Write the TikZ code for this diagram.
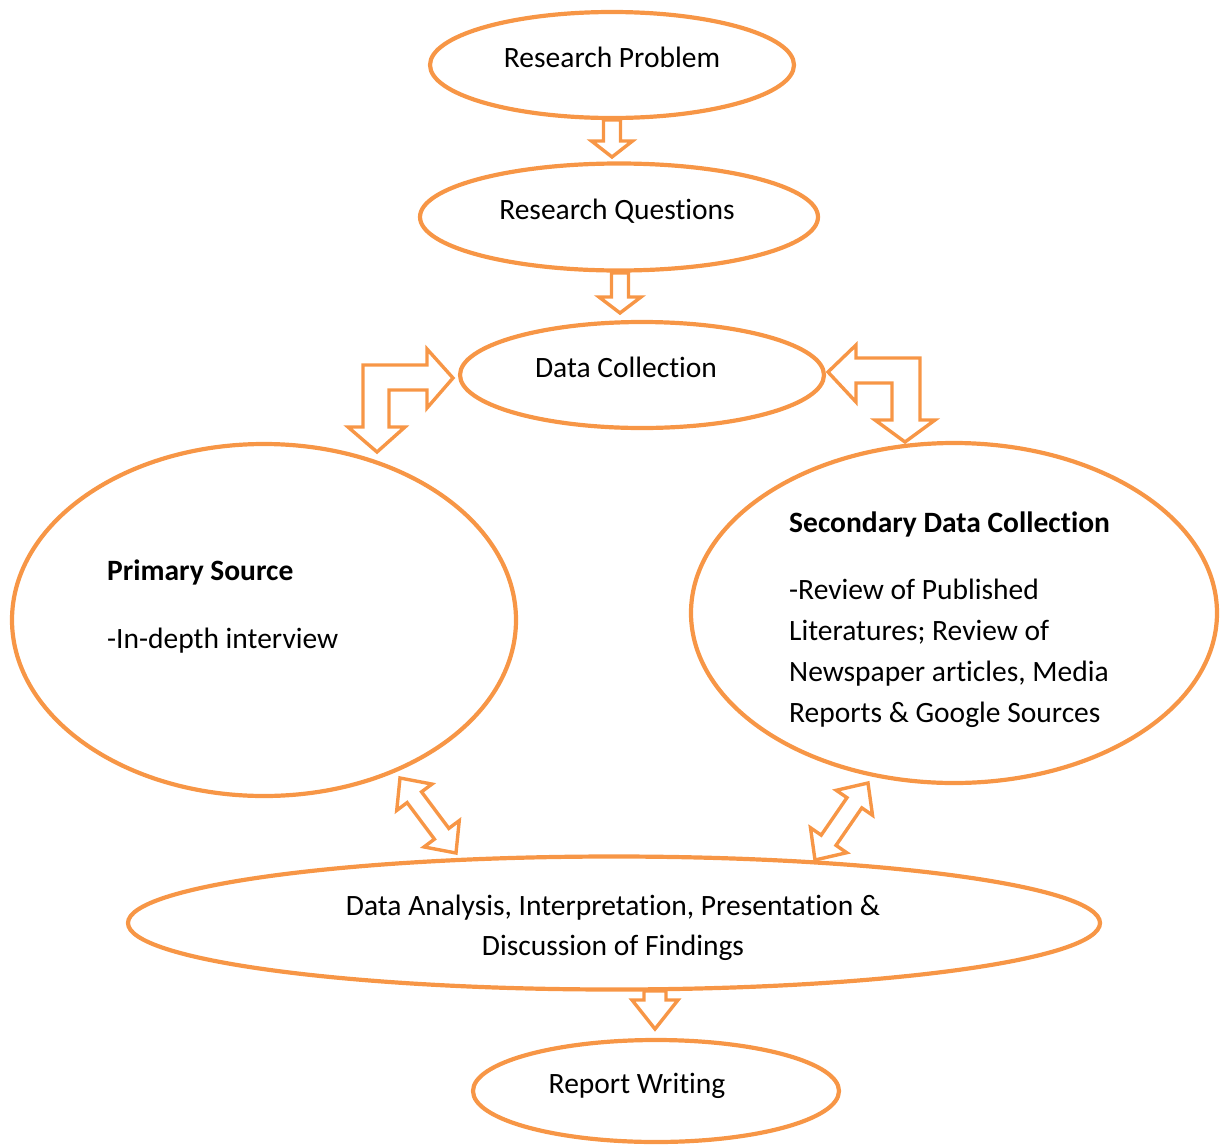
\documentclass[tikz,border=0pt]{standalone}
\usepackage{fontspec}
\setmainfont{Carlito}[Ligatures=NoCommon]
\usetikzlibrary{shapes.geometric,calc}
\definecolor{acc}{HTML}{F79646}
\newcommand\sarrow[5]{% tail, tip, shaft half, head half, head length
  \coordinate (hb) at ($(#2)!#5pt!(#1)$);
  \draw[blk] ($(#1)!#3pt!90:(#2)$) -- ($(hb)!#3pt!90:(#2)$) -- ($(hb)!#4pt!90:(#2)$) -- (#2)
    -- ($(hb)!#4pt!-90:(#2)$) -- ($(hb)!#3pt!-90:(#2)$) -- ($(#1)!#3pt!-90:(#2)$) -- cycle;}
\newcommand\darrow[5]{% end A, end B, shaft half, head half, head length
  \coordinate (ha) at ($(#1)!#5pt!(#2)$);
  \coordinate (hbb) at ($(#2)!#5pt!(#1)$);
  \draw[blk] (#1) -- ($(ha)!#4pt!90:(#2)$) -- ($(ha)!#3pt!90:(#2)$) -- ($(hbb)!#3pt!-90:(#1)$)
    -- ($(hbb)!#4pt!-90:(#1)$) -- (#2) -- ($(hbb)!#4pt!90:(#1)$) -- ($(hbb)!#3pt!90:(#1)$)
    -- ($(ha)!#3pt!-90:(#2)$) -- ($(ha)!#4pt!-90:(#2)$) -- cycle;}
\begin{document}
\begin{tikzpicture}[x=1pt,y=-1pt,
  oval/.style={ellipse,draw=acc,line width=4.2pt,inner sep=0pt},
  txt/.style={inner sep=0pt,font=\fontsize{29.5}{41}\selectfont},
  blk/.style={draw=acc,line width=3.4pt,line join=miter}]
\useasboundingbox (0,0) rectangle (1221,1146);

% arrows
\coordinate (a1t) at (612,120); \coordinate (a1h) at (612,157);
\coordinate (a2t) at (620,273); \coordinate (a2h) at (620,313);
\coordinate (a3t) at (655,991); \coordinate (a3h) at (655,1029);
\sarrow{a1t}{a1h}{8.5}{20.5}{16}
\sarrow{a2t}{a2h}{8.5}{21}{16}
\sarrow{a3t}{a3h}{11}{23}{29}

\coordinate (d1a) at (400,778); \coordinate (d1b) at (456,853);
\coordinate (d2a) at (868,783); \coordinate (d2b) at (815,860);
\darrow{d1a}{d1b}{9}{22}{24}
\darrow{d2a}{d2b}{9}{22}{24}

% bent arrows
\draw[blk] (363,365) -- (427,365) -- (427,349) -- (453,378) -- (427,408) -- (427,390)
  -- (389,390) -- (389,427) -- (405,427) -- (377,452) -- (348,427) -- (363,427) -- cycle;
\draw[blk] (828,372) -- (856,345) -- (856,358) -- (920,358) -- (920,420) -- (935,420)
  -- (905,442) -- (875,420) -- (892,420) -- (892,383) -- (856,383) -- (856,402) -- cycle;

% ellipses
\node[oval,minimum width=364pt,minimum height=106pt] (rp) at (612,65) {};
\node[oval,minimum width=398pt,minimum height=107pt] (rq) at (619,217) {};
\node[oval,minimum width=364pt,minimum height=106pt] (dc) at (642,375) {};
\node[oval,minimum width=504pt,minimum height=352pt] (ps) at (264,620) {};
\node[oval,minimum width=526pt,minimum height=340pt] (sd) at (954,613) {};
\node[oval,minimum width=972pt,minimum height=133pt] (da) at (614,923) {};
\node[oval,minimum width=366pt,minimum height=102pt] (rw) at (656,1091) {};

% texts
\node[txt,anchor=base] (t1) at (612,67) {Research Problem};
\node[txt,anchor=base] (t2) at (617,219) {Research Questions};
\node[txt,anchor=base] (t3) at (626,377) {Data Collection};
\node[txt,anchor=base west,font=\fontsize{29.5}{41}\selectfont\bfseries] (t4) at (107,580) {Primary Source};
\node[txt,anchor=base west] (t5) at (107,648) {-In-depth interview};
\node[txt,anchor=base west,font=\fontsize{29.5}{41}\selectfont\bfseries] (t6) at (789,532) {Secondary Data Collection};
\node[txt,anchor=base west] (t7) at (789,599) {-Review of Published};
\node[txt,anchor=base west] (t8) at (789,640) {Literatures; Review of};
\node[txt,anchor=base west] (t9) at (789,681) {Newspaper articles, Media};
\node[txt,anchor=base west] (t10) at (789,722) {Reports \& Google Sources};
\node[txt,anchor=base] (t11) at (613,915) {Data Analysis, Interpretation, Presentation \&};
\node[txt,anchor=base] (t12) at (613,955) {Discussion of Findings};
\node[txt,anchor=base] (t13) at (637,1093) {Report Writing};
\end{tikzpicture}
\end{document}
